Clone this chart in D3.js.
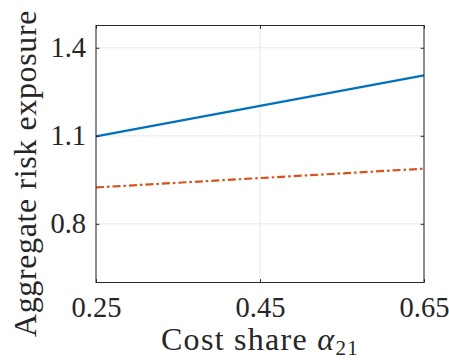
<!DOCTYPE html>
<html><head><meta charset="utf-8">
<script src="https://cdn.jsdelivr.net/npm/d3@7"></script>
<style>body{margin:0;background:#fff}svg{display:block}
svg text{font-family:"Liberation Serif","DejaVu Serif",serif;}</style>
</head><body><div id="chart"></div>
<script>
const xValues = [0.25, 0.45, 0.65];
const seriesBlue = [1.098, 1.202, 1.306];
const seriesOrange = [0.924, 0.956, 0.988];
const xTicks = [0.25, 0.45, 0.65];
const yTicks = [0.8, 1.1, 1.4];
const xLabelText = "Cost share ";
const yLabelText = "Aggregate risk exposure";

const W = 449, H = 362;
const m = {left: 96, top: 25.5, right: 424, bottom: 282.5};
const svg = d3.select("#chart").append("svg").attr("width", W).attr("height", H);

const x = d3.scaleLinear().domain([0.25, 0.65]).range([m.left, m.right]);
const y = d3.scaleLinear().domain([0.6, 1.476]).range([m.bottom, m.top]);

// grid
svg.append("g").selectAll("line").data(yTicks).join("line")
  .attr("x1", m.left).attr("x2", m.right).attr("y1", d => y(d)).attr("y2", d => y(d))
  .attr("stroke", "#e8e8e8").attr("stroke-width", 1);
svg.append("g").selectAll("line").data(xTicks).join("line")
  .attr("y1", m.top).attr("y2", m.bottom).attr("x1", d => x(d)).attr("x2", d => x(d))
  .attr("stroke", "#e8e8e8").attr("stroke-width", 1);

// lines
const line = d3.line().x((d, i) => x(xValues[i])).y(d => y(d));
svg.append("path").datum(seriesBlue).attr("d", line).attr("fill", "none")
  .attr("stroke", "#0072BD").attr("stroke-width", 2.2);
svg.append("path").datum(seriesOrange).attr("d", line).attr("fill", "none")
  .attr("stroke", "#D95319").attr("stroke-width", 2.2).attr("stroke-dasharray", "8,3,2.5,3");

// axes with inward ticks
const tl = 3.3;
const axB = svg.append("g").attr("transform", `translate(0,${m.bottom})`)
  .call(d3.axisBottom(x).tickValues(xTicks).tickSize(-tl).tickPadding(14).tickFormat(d3.format(".2f")));
const axT = svg.append("g").attr("transform", `translate(0,${m.top})`)
  .call(d3.axisTop(x).tickValues(xTicks).tickSize(-tl).tickFormat(""));
const axL = svg.append("g").attr("transform", `translate(${m.left},0)`)
  .call(d3.axisLeft(y).tickValues(yTicks).tickSize(-tl).tickPadding(10).tickFormat(d3.format(".1f")));
const axR = svg.append("g").attr("transform", `translate(${m.right},0)`)
  .call(d3.axisRight(y).tickValues(yTicks).tickSize(-tl).tickFormat(""));
[axB, axT, axL, axR].forEach(a => {
  a.selectAll(".tick line").attr("stroke", "#262626");
  a.selectAll("text").attr("fill", "#262626").attr("font-family", null).style("font-size", "28.5px");
  a.select(".domain").remove();
});
svg.append("rect").attr("x", m.left).attr("y", m.top).attr("width", m.right - m.left)
  .attr("height", m.bottom - m.top).attr("fill", "none").attr("stroke", "#262626").attr("stroke-width", 1);

function fitSpacing(sel, target) {
  const w = sel.node().getBBox();
  const n = sel.text().length;
  sel.style("letter-spacing", ((target - w.width) / n) + "px");
}

// x label
const xl = svg.append("text").attr("x", 260).attr("y", 350).attr("text-anchor", "middle")
  .style("font-size", "32px").attr("fill", "#262626");
xl.append("tspan").text(xLabelText);
xl.append("tspan").text("α").style("font-style", "italic");
xl.append("tspan").text("21").style("font-size", "21px").attr("dy", 5);
fitSpacing(xl, 198);

// y label
const yl = svg.append("text").attr("transform", `translate(36,173.5) rotate(-90)`)
  .attr("text-anchor", "middle").style("font-size", "32px")
  .attr("fill", "#262626").text(yLabelText);
fitSpacing(yl, 327);
</script></body></html>
